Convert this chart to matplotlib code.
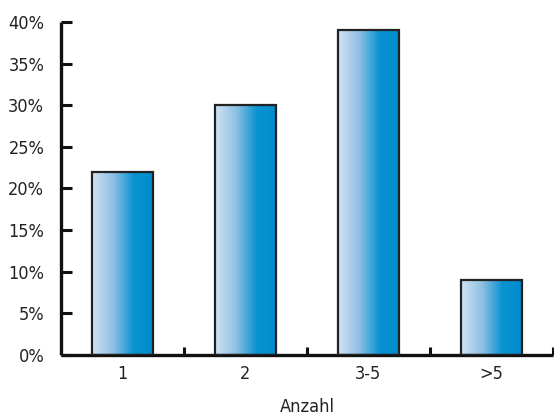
import matplotlib
matplotlib.use('Agg')
import matplotlib.pyplot as plt
import numpy as np
from matplotlib.colors import LinearSegmentedColormap
from matplotlib.ticker import FuncFormatter

plt.rcParams['font.family'] = ['DejaVu Sans']
plt.rcParams['font.stretch'] = 'condensed'

# Daten
kategorien = ['1', '2', '3-5', '>5']
anteile = [22, 30, 39, 9]
y_ticks = [0, 5, 10, 15, 20, 25, 30, 35, 40]

# Farbverlauf hell -> blau (links nach rechts)
grad = LinearSegmentedColormap.from_list('blau', [
    (0.0, '#d2e3f3'), (0.35, '#8ec0e4'), (0.68, '#0a93d1'), (1.0, '#008ccd')])

fig = plt.figure(figsize=(5.54, 4.17), dpi=100)
ax = fig.add_axes([0.110, 0.149, 0.888, 0.798])

x = np.arange(len(kategorien))
bars = ax.bar(x, anteile, width=0.49, facecolor='none', edgecolor='#222222',
              linewidth=1.6, zorder=3)

verlauf = np.linspace(0, 1, 256).reshape(1, -1)
for b in bars:
    x0, y0 = b.get_x(), b.get_y()
    ax.imshow(verlauf, cmap=grad, aspect='auto', interpolation='bicubic',
              extent=(x0, x0 + b.get_width(), y0, y0 + b.get_height()), zorder=2)

ax.set_xlim(-0.5, len(kategorien) - 0.5)
ax.set_ylim(0, 40)

ax.spines['top'].set_visible(False)
ax.spines['right'].set_visible(False)
for s in ('left', 'bottom'):
    ax.spines[s].set_linewidth(2.4)
    ax.spines[s].set_color('#111111')
    ax.spines[s].set_capstyle('butt')

ax.set_yticks(y_ticks)
ax.yaxis.set_major_formatter(FuncFormatter(lambda v, p: f'{int(v)}%'))
ax.tick_params(axis='y', direction='in', length=8, width=2.2, color='#111111',
               labelsize=13, pad=12, labelcolor='#222222')

ax.set_xticks(x)
ax.set_xticklabels(kategorien)
ax.set_xticks(np.arange(0.5, len(kategorien), 1.0), minor=True)
ax.tick_params(axis='x', which='major', length=0, labelsize=13, pad=7, labelcolor='#222222')
ax.tick_params(axis='x', which='minor', direction='in', length=6, width=2.2, color='#111111')

ax.set_xlabel('Anzahl', fontsize=13, color='#222222', labelpad=11)

fig.savefig('out.png', dpi=100, facecolor='white')
